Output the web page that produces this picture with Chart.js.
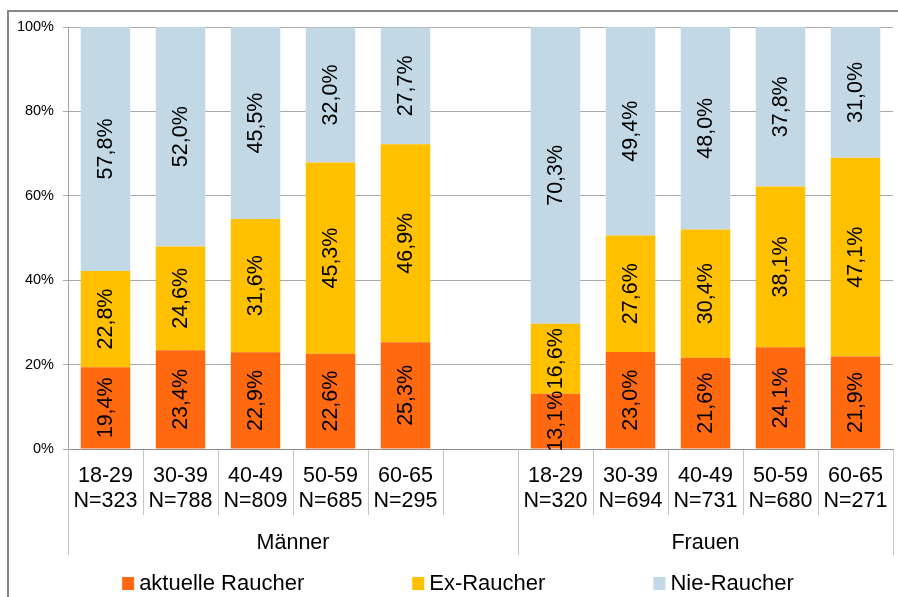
<!DOCTYPE html>
<html>
<head>
<meta charset="utf-8">
<script src="https://cdn.jsdelivr.net/npm/chart.js@4/dist/chart.umd.min.js"></script>
<style>
    html, body { margin: 0; padding: 0; background: #fff; }
    #chart-wrap { width: 898px; height: 597px; }
</style>
</head>
<body>
<div id="chart-wrap"><canvas id="smoker-chart"></canvas></div>
<script>
// age groups per sex, empty slot separates Männer / Frauen
const ageLabels = ['18-29', '30-39', '40-49', '50-59', '60-65', '', '18-29', '30-39', '40-49', '50-59', '60-65'];
const sampleSizes = ['N=323', 'N=788', 'N=809', 'N=685', 'N=295', '', 'N=320', 'N=694', 'N=731', 'N=680', 'N=271'];
const groupNames = ['Männer', 'Frauen'];
const groupSpans = [6, 5];

const currentSmokers = [19.4, 23.4, 22.9, 22.6, 25.3, null, 13.1, 23.0, 21.6, 24.1, 21.9];
const exSmokers = [22.8, 24.6, 31.6, 45.3, 46.9, null, 16.6, 27.6, 30.4, 38.1, 47.1];
const neverSmokers = [57.8, 52.0, 45.5, 32.0, 27.7, null, 70.3, 49.4, 48.0, 37.8, 31.0];

const yTicks = [0, 20, 40, 60, 80, 100];

const fontFamily = '"Liberation Sans", Arial, sans-serif';

const formatPercent = function (value) {
    return value.toFixed(1).replace('.', ',') + '%';
};

// gray frame, only top and left edge visible
const framePlugin = {
    id: 'frame',
    beforeDraw: function (chart) {
        const ctx = chart.ctx;
        ctx.save();
        ctx.strokeStyle = '#878787';
        ctx.lineWidth = 2;
        ctx.strokeRect(8, 11, chart.width + 20, chart.height + 20);
        ctx.restore();
    }
};

// rotated value labels in the middle of each segment
const valueLabelPlugin = {
    id: 'valueLabels',
    afterDatasetsDraw: function (chart) {
        const ctx = chart.ctx;
        ctx.save();
        ctx.font = '21.5px ' + fontFamily;
        ctx.fillStyle = '#000';
        ctx.textAlign = 'center';
        ctx.textBaseline = 'middle';
        chart.data.datasets.forEach((dataset, i) => {
            const meta = chart.getDatasetMeta(i);
            meta.data.forEach((bar, j) => {
                const value = dataset.data[j];
                if (value == null) {
                    return;
                }
                const props = bar.getProps(['x', 'y', 'base'], true);
                ctx.save();
                ctx.translate(props.x, (props.y + props.base) / 2);
                ctx.rotate(-Math.PI / 2);
                ctx.fillText(formatPercent(value), 0, 1);
                ctx.restore();
            });
        });
        ctx.restore();
    }
};

// second level of the x axis: sex groups with long separators
const groupAxisPlugin = {
    id: 'groupAxis',
    afterDraw: function (chart) {
        const ctx = chart.ctx;
        const xScale = chart.scales.x;
        const top = chart.chartArea.bottom;
        const step = xScale.width / ageLabels.length;
        ctx.save();
        ctx.strokeStyle = '#c4c4c4';
        ctx.lineWidth = 1;
        ctx.font = '21.5px ' + fontFamily;
        ctx.fillStyle = '#000';
        ctx.textAlign = 'center';
        ctx.textBaseline = 'middle';
        let index = 0;
        const edges = [];
        for (let g = 0; g < groupNames.length; g++) {
            const left = xScale.getPixelForValue(index) - step / 2;
            const right = xScale.getPixelForValue(index + groupSpans[g] - 1) + step / 2;
            edges.push(left, right);
            ctx.fillText(groupNames[g], (left + right) / 2, top + 94);
            index += groupSpans[g];
        }
        edges.forEach(x => {
            const px = Math.round(x) + 0.5;
            ctx.beginPath();
            ctx.moveTo(px, top);
            ctx.lineTo(px, top + 106);
            ctx.stroke();
        });
        ctx.restore();
    }
};

// legend with wide gaps between entries
const legendPlugin = {
    id: 'bottomLegend',
    afterDraw: function (chart) {
        const ctx = chart.ctx;
        const boxSize = 12;
        const textGap = 5;
        const itemGap = 108;
        ctx.save();
        ctx.font = '22px ' + fontFamily;
        ctx.textBaseline = 'middle';
        ctx.textAlign = 'left';
        const widths = chart.data.datasets.map(ds => boxSize + textGap + ctx.measureText(ds.label).width);
        const total = widths.reduce((a, b) => a + b, 0) + itemGap * (widths.length - 1);
        let x = (chart.width - total) / 2 + 9;
        const y = chart.height - 14;
        chart.data.datasets.forEach((ds, i) => {
            ctx.fillStyle = ds.backgroundColor;
            ctx.fillRect(x, y - 6, boxSize, boxSize + 1);
            ctx.fillStyle = '#000';
            ctx.fillText(ds.label, x + boxSize + textGap, y + 1);
            x += widths[i] + itemGap;
        });
        ctx.restore();
    }
};

const categoryLabels = ageLabels.map((age, i) => [age, sampleSizes[i]]);

new Chart(document.getElementById('smoker-chart'), {
    type: 'bar',
    data: {
        labels: categoryLabels,
        datasets: [
            {
                label: 'aktuelle Raucher',
                data: currentSmokers,
                backgroundColor: '#ff6a10'
            },
            {
                label: 'Ex-Raucher',
                data: exSmokers,
                backgroundColor: '#ffc000'
            },
            {
                label: 'Nie-Raucher',
                data: neverSmokers,
                backgroundColor: '#c2d9e5'
            }
        ]
    },
    options: {
        responsive: true,
        maintainAspectRatio: false,
        animation: false,
        datasets: {
            bar: {
                barPercentage: 0.66,
                categoryPercentage: 1
            }
        },
        layout: {
            padding: { top: 27, left: 8, right: 5, bottom: 40 }
        },
        plugins: {
            legend: { display: false },
            tooltip: { enabled: false }
        },
        scales: {
            x: {
                stacked: true,
                grid: {
                    display: true,
                    offset: true,
                    drawOnChartArea: false,
                    drawTicks: true,
                    tickLength: 66,
                    color: '#c4c4c4'
                },
                border: { display: true, color: '#8c8c8c' },
                ticks: {
                    autoSkip: false,
                    maxRotation: 0,
                    padding: -51,
                    color: '#000',
                    font: { family: fontFamily, size: 21.5, lineHeight: 1.16 }
                },
                afterFit: function (scale) {
                    scale.height = 108;
                }
            },
            y: {
                stacked: true,
                min: 0,
                max: 100,
                afterBuildTicks: function (scale) {
                    scale.ticks = yTicks.map(v => ({ value: v }));
                },
                grid: {
                    color: '#a8a8a8',
                    tickLength: 5
                },
                border: { display: true, color: '#a0a0a0' },
                ticks: {
                    padding: 9,
                    color: '#000',
                    font: { family: fontFamily, size: 14.5 },
                    callback: function (value) {
                        return value + '%';
                    }
                },
                afterFit: function (scale) {
                    scale.width = 60;
                }
            }
        }
    },
    plugins: [framePlugin, valueLabelPlugin, groupAxisPlugin, legendPlugin]
});
</script>
</body>
</html>
